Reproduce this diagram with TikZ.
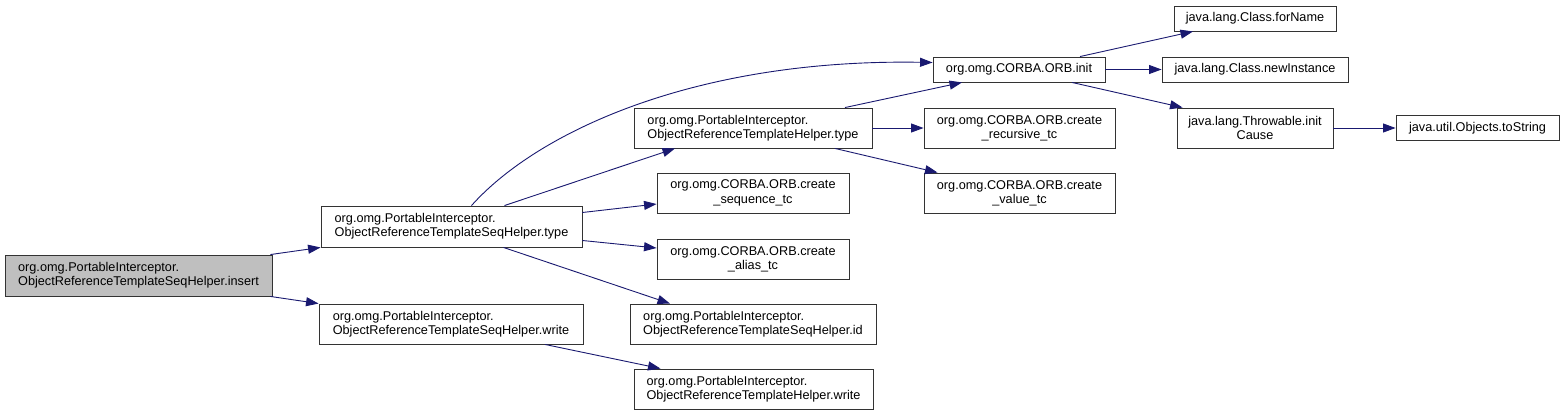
\documentclass[tikz,border=0pt]{standalone}
\usepackage{fontspec}
\setmainfont{Liberation Sans}
\usetikzlibrary{arrows.meta}
\definecolor{edgeblue}{RGB}{25,25,112}
\definecolor{callgray}{RGB}{191,191,191}
\begin{document}
\begin{tikzpicture}[x=1pt,y=-1pt,
  fn/.style={draw=black!80,line width=0.9pt,inner sep=0pt,font=\fontsize{12.7}{14.3}\selectfont},
  call/.style={edgeblue,line width=0.9pt,-{Triangle[length=12.5pt,width=9pt]}}]
\useasboundingbox (0,0) rectangle (1564,415);
\node[fn,fill=callgray,minimum width=267,minimum height=41,align=left] (insert) at (138.5,275.5) {org.omg.PortableInterceptor.\\ObjectReferenceTemplateSeqHelper.insert};
\node[fn,minimum width=261,minimum height=41,align=left] (stype) at (451.5,226.5) {org.omg.PortableInterceptor.\\ObjectReferenceTemplateSeqHelper.type};
\node[fn,minimum width=264,minimum height=40,align=left] (swrite) at (451,324) {org.omg.PortableInterceptor.\\ObjectReferenceTemplateSeqHelper.write};
\node[fn,minimum width=172,minimum height=25] (init) at (1019,69.5) {org.omg.CORBA.ORB.init};
\node[fn,minimum width=238,minimum height=40,align=left] (ttype) at (753,128) {org.omg.PortableInterceptor.\\ObjectReferenceTemplateHelper.type};
\node[fn,minimum width=191,minimum height=40,align=center] (rec) at (1019.5,128) {org.omg.CORBA.ORB.create\\\_recursive\_tc};
\node[fn,minimum width=192,minimum height=40,align=center] (seq) at (753,193) {org.omg.CORBA.ORB.create\\\_sequence\_tc};
\node[fn,minimum width=191,minimum height=40,align=center] (val) at (1019.5,193) {org.omg.CORBA.ORB.create\\\_value\_tc};
\node[fn,minimum width=192,minimum height=40,align=center] (alias) at (753,259) {org.omg.CORBA.ORB.create\\\_alias\_tc};
\node[fn,minimum width=246,minimum height=40,align=left] (id) at (753,324) {org.omg.PortableInterceptor.\\ObjectReferenceTemplateSeqHelper.id};
\node[fn,minimum width=239,minimum height=40,align=left] (twrite) at (753.5,389) {org.omg.PortableInterceptor.\\ObjectReferenceTemplateHelper.write};
\node[fn,minimum width=162,minimum height=25] (forname) at (1255,18.5) {java.lang.Class.forName};
\node[fn,minimum width=186,minimum height=25] (newinst) at (1255,69.5) {java.lang.Class.newInstance};
\node[fn,minimum width=156,minimum height=40,align=center] (initcause) at (1255,128) {java.lang.Throwable.init\\Cause};
\node[fn,minimum width=163,minimum height=25] (tostring) at (1477.5,128) {java.util.Objects.toString};
\draw[call] ([xshift=-2]insert.north east) -- (stype.south west);
\draw[call] ([xshift=-2]insert.south east) -- (swrite.north west);
\draw[call] ([xshift=20]stype.north) .. controls +(68,-76) and +(-233,-4) .. ([yshift=7]init.west);
\draw[call] ([xshift=53]stype.north) -- ([xshift=-78]ttype.south);
\draw[call] ([yshift=14]stype.east) -- ([yshift=-11]seq.west);
\draw[call] ([yshift=-14]stype.east) -- ([yshift=11]alias.west);
\draw[call] ([xshift=52]stype.south) -- ([xshift=-83]id.north);
\draw[call] ([xshift=94]swrite.south) -- ([xshift=-93]twrite.north);
\draw[call] ([xshift=92]ttype.north) -- ([xshift=-57]init.south);
\draw[call] (ttype.east) -- (rec.west);
\draw[call] ([xshift=82]ttype.south) -- ([xshift=-82]val.north);
\draw[call] ([xshift=61]init.north) -- ([xshift=-62]forname.south);
\draw[call] (init.east) -- (newinst.west);
\draw[call] ([xshift=53]init.south) -- ([xshift=6]initcause.north west);
\draw[call] (initcause.east) -- (tostring.west);
\end{tikzpicture}
\end{document}
